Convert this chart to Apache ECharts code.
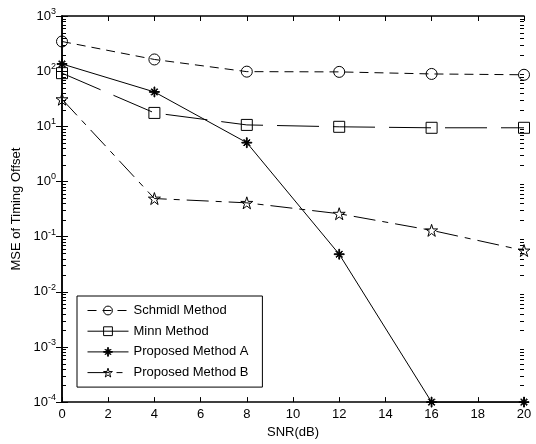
<!DOCTYPE html>
<html>
<head>
<meta charset="utf-8">
<script src="https://cdn.jsdelivr.net/npm/echarts@6/dist/echarts.min.js"></script>
<style>
  html, body { margin: 0; padding: 0; background: #fff; }
  #chart { width: 536px; height: 444px; }
</style>
</head>
<body>
<div id="chart"></div>
<script>
// data
const snr = [0, 4, 8, 12, 16, 20];
const schmidl = [345, 163, 98, 97, 89, 86];
const minn = [92, 17.5, 10.6, 9.8, 9.4, 9.4];
const methodA = [135, 42, 5.05, 0.048, 1e-4, 1e-4];
const methodB = [31, 0.49, 0.41, 0.26, 0.13, 0.056];

const FONT = 'Liberation Sans, Arial, Helvetica, sans-serif';

// minor ticks of the log axis (2..9 in each decade), on both sides of the box
const minorVals = [];
for (let e = -4; e < 3; e++) {
  for (let m = 2; m <= 9; m++) minorVals.push(m * Math.pow(10, e));
}
const minorData = [];
minorVals.forEach(v => { minorData.push([0, v]); minorData.push([20, v]); });

const starPath = 'path://M10 0 L12.245 6.91 L19.511 6.91 L13.633 11.18 L15.878 18.09 L10 13.82 L4.122 18.09 L6.367 11.18 L0.489 6.91 L7.755 6.91 Z';
const asteriskPath = 'path://M0 9.2 L20 9.2 L20 10.8 L0 10.8 Z M9.2 0 L10.8 0 L10.8 20 L9.2 20 Z M3.4 4.5 L4.5 3.4 L16.6 15.5 L15.5 16.6 Z M15.5 3.4 L16.6 4.5 L4.5 16.6 L3.4 15.5 Z';

function pairs(ys) {
  return snr.map((x, i) => [x, ys[i]]);
}

function lineSeries(name, ys, symbol, size, dash, fill) {
  return {
    name: name,
    type: 'line',
    data: pairs(ys),
    symbol: symbol,
    symbolSize: size,
    showAllSymbol: true,
    clip: false,
    lineStyle: { color: '#000', width: 1, type: dash },
    itemStyle: { color: fill, borderColor: '#000', borderWidth: 1 },
    emphasis: { disabled: true },
    animation: false
  };
}

const chart = echarts.init(document.getElementById('chart'));

const logLabel = {
  fontFamily: FONT,
  fontSize: 13,
  color: '#000',
  margin: 6,
  formatter: function (v) {
    const e = Math.round(Math.log10(v));
    return '10{s|' + e + '}';
  },
  rich: {
    s: { fontFamily: FONT, fontSize: 9, color: '#000', verticalAlign: 'top', padding: [0, 0, 9, 0] }
  }
};

function minorTick(params, api) {
  const x = api.value(0);
  const p = api.coord([x, api.value(1)]);
  const dir = x < 10 ? 1 : -1;
  const y = Math.round(p[1]) + 0.5;
  return {
    type: 'line',
    shape: { x1: p[0], y1: y, x2: p[0] + dir * 4, y2: y },
    style: { stroke: '#000', lineWidth: 1 }
  };
}

const option = {
  animation: false,
  backgroundColor: '#fff',
  textStyle: { fontFamily: FONT },
  grid: { left: 62, right: 12, top: 16, bottom: 41 },
  legend: {
    orient: 'vertical',
    left: 77,
    top: 296,
    data: ['Schmidl Method', 'Minn Method', 'Proposed Method A', 'Proposed Method B'],
    itemWidth: 41,
    itemHeight: 11,
    itemGap: 7.7,
    padding: [8, 14, 8, 10],
    borderColor: '#000',
    borderWidth: 1,
    borderRadius: 0,
    backgroundColor: '#fff',
    lineStyle: { width: 1 },
    itemStyle: { borderWidth: 1 },
    textStyle: { fontFamily: FONT, fontSize: 13, color: '#000' },
    selectedMode: false
  },
  xAxis: [
    {
      type: 'value',
      min: 0,
      max: 20,
      interval: 2,
      name: 'SNR(dB)',
      nameLocation: 'middle',
      nameGap: 22,
      nameTextStyle: { fontFamily: FONT, fontSize: 13, color: '#000' },
      axisLine: { lineStyle: { color: '#000', width: 1.5 } },
      axisTick: { inside: true, length: 5, lineStyle: { color: '#000' } },
      axisLabel: { fontFamily: FONT, fontSize: 13, color: '#000', margin: 6 },
      splitLine: { show: false }
    },
    {
      type: 'value',
      position: 'top',
      min: 0,
      max: 20,
      interval: 2,
      axisLine: { lineStyle: { color: '#000', width: 1.5 } },
      axisTick: { inside: true, length: 5, lineStyle: { color: '#000' } },
      axisLabel: { show: false },
      splitLine: { show: false }
    }
  ],
  yAxis: [
    {
      type: 'log',
      logBase: 10,
      min: 1e-4,
      max: 1e3,
      name: 'MSE of Timing Offset',
      nameLocation: 'middle',
      nameGap: 33,
      nameTextStyle: { fontFamily: FONT, fontSize: 13, color: '#000' },
      axisLine: { lineStyle: { color: '#000', width: 1.5 } },
      axisTick: { inside: true, length: 6, lineStyle: { color: '#000' } },
      axisLabel: logLabel,
      splitLine: { show: false }
    },
    {
      type: 'log',
      logBase: 10,
      min: 1e-4,
      max: 1e3,
      position: 'right',
      axisLine: { lineStyle: { color: '#000', width: 1.5 } },
      axisTick: { inside: true, length: 6, lineStyle: { color: '#000' } },
      axisLabel: { show: false },
      splitLine: { show: false }
    }
  ],
  series: [
    {
      name: 'minor',
      type: 'custom',
      silent: true,
      clip: false,
      z: 5,
      animation: false,
      xAxisIndex: 0,
      yAxisIndex: 0,
      encode: { x: 0, y: 1 },
      data: minorData,
      renderItem: minorTick
    },
    lineSeries('Schmidl Method', schmidl, 'circle', 11, [9, 6], 'transparent'),
    lineSeries('Minn Method', minn, 'rect', 11, [42, 14], 'transparent'),
    lineSeries('Proposed Method A', methodA, asteriskPath, 10, 'solid', '#000'),
    lineSeries('Proposed Method B', methodB, starPath, 12, [22, 7, 6, 7], 'transparent')
  ]
};

chart.setOption(option);
</script>
</body>
</html>
